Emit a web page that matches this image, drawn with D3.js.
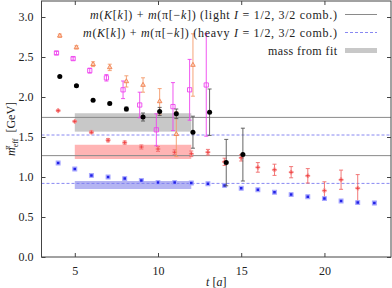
<!DOCTYPE html>
<html>
<head>
<meta charset="utf-8">
<script src="https://cdn.jsdelivr.net/npm/d3@7"></script>
<style>
  body { margin: 0; background: #fff; }
  svg text { font-family: "Liberation Serif", "DejaVu Serif", serif; fill: #222; }
</style>
</head>
<body>
<div id="chart"></div>
<script>
// Data
const tBlack = [4, 5, 6, 7, 8, 9, 10, 11, 12, 13, 14, 15];
const mBlack = [2.257, 2.14, 1.96, 1.92, 1.85, 1.75, 1.82, 1.79, 1.56, 1.81, 1.18, 1.28];
const eBlack = [0.01, 0.01, 0.012, 0.015, 0.025, 0.05, 0.05, 0.06, 0.2, 0.29, 0.29, 0.33];

const tRed = [4, 5, 6, 7, 8, 9, 10, 11, 12, 13, 14, 15, 16, 17, 18, 19, 20, 21, 22];
const mRed = [1.83, 1.695, 1.56, 1.46, 1.43, 1.375, 1.35, 1.31, 1.29, 1.31, 1.19, 1.24, 1.12, 1.09, 1.06, 1.015, 0.83, 0.966, 0.86];
const eRed = [0.01, 0.01, 0.015, 0.02, 0.02, 0.025, 0.03, 0.03, 0.035, 0.035, 0.045, 0.04, 0.06, 0.07, 0.07, 0.09, 0.11, 0.12, 0.17];

const tBlue = [4, 5, 6, 7, 8, 9, 10, 11, 12, 13, 14, 15, 16, 17, 18, 19, 20, 21, 22, 23];
const mBlue = [1.175, 1.10, 1.02, 1.0, 0.98, 0.957, 0.93, 0.93, 0.925, 0.916, 0.895, 0.86, 0.84, 0.81, 0.78, 0.754, 0.73, 0.70, 0.68, 0.675];
const eBlue = [0.01, 0.01, 0.01, 0.01, 0.01, 0.01, 0.01, 0.01, 0.01, 0.01, 0.01, 0.01, 0.01, 0.01, 0.01, 0.01, 0.01, 0.01, 0.01, 0.02];

const tMag = [4, 5, 6, 7, 8, 9, 10, 11, 12, 13];
const mMag = [2.55, 2.48, 2.33, 2.24, 2.09, 1.90, 1.59, 1.88, 2.09, 2.15];
const eMag = [0.02, 0.02, 0.03, 0.04, 0.11, 0.16, 0.2, 0.3, 0.38, 0.64];

const tOrange = [4, 5, 6, 7, 8, 9, 10, 11, 12];
const mOrange = [2.766, 2.62, 2.41, 2.37, 2.195, 2.15, 1.945, 1.535, 2.40];
const eOrange = [0.02, 0.02, 0.03, 0.04, 0.07, 0.09, 0.16, 0.28, 0.39];

const lightLevels = [1.745, 1.267];
const heavyLevels = [1.525, 0.92];
const fitBands = [[1.567, 1.797], [1.225, 1.403], [0.85, 0.95]];
const fitRange = [5, 12];

const xTicks = [5, 10, 15, 20];
const yTicks = [0, 0.5, 1, 1.5, 2, 2.5, 3];

const width = 392, height = 288;
const margin = { top: 1, right: 1, bottom: 31, left: 41.5 };

const svg = d3.select("#chart").append("svg")
    .attr("width", width)
    .attr("height", height);

const x = d3.scaleLinear().domain([3, 24]).range([margin.left, width - margin.right]);
const y = d3.scaleLinear().domain([0, 3.2]).range([height - margin.bottom, margin.top]);

// fit bands
const bandColors = ["#c8c8c8", "#ffb4b4", "#b4b4f2"];
svg.selectAll("rect.band")
    .data(fitBands)
    .enter().append("rect")
    .attr("class", "band")
    .attr("x", x(fitRange[0]))
    .attr("width", x(fitRange[1]) - x(fitRange[0]))
    .attr("y", d => y(d[1]))
    .attr("height", d => y(d[0]) - y(d[1]))
    .attr("fill", (d, i) => bandColors[i]);

// horizontal reference lines
svg.selectAll("line.light")
    .data(lightLevels)
    .enter().append("line")
    .attr("x1", x(3)).attr("x2", x(24))
    .attr("y1", d => y(d)).attr("y2", d => y(d))
    .attr("stroke", "#8a8a8a")
    .attr("stroke-width", 1);

svg.selectAll("line.heavy")
    .data(heavyLevels)
    .enter().append("line")
    .attr("x1", x(3)).attr("x2", x(24))
    .attr("y1", d => y(d)).attr("y2", d => y(d))
    .attr("stroke", "#7a7af0")
    .attr("stroke-width", 0.9)
    .attr("stroke-dasharray", "3,2");

// axes (ticks inside, mirrored)
const tickStyle = g => {
    g.select(".domain").remove();
    g.selectAll(".tick line").attr("stroke", "#444");
    g.selectAll(".tick text").style("font-size", "12px").attr("fill", "#333");
};

svg.append("g")
    .attr("transform", `translate(0,${y(0)})`)
    .call(d3.axisBottom(x).tickValues(xTicks).tickSizeInner(-4).tickPadding(9).tickFormat(d3.format("d")))
    .call(tickStyle);
svg.append("g")
    .attr("transform", `translate(0,${y(3.2)})`)
    .call(d3.axisTop(x).tickValues(xTicks).tickSizeInner(-4).tickFormat(""))
    .call(tickStyle);
svg.append("g")
    .attr("transform", `translate(${x(3)},0)`)
    .call(d3.axisLeft(y).tickValues(yTicks).tickSizeInner(-4).tickPadding(8).tickFormat(d3.format(".1f")))
    .call(tickStyle);
svg.append("g")
    .attr("transform", `translate(${x(24)},0)`)
    .call(d3.axisRight(y).tickValues(yTicks).tickSizeInner(-4).tickFormat(""))
    .call(tickStyle);

svg.append("rect")
    .attr("x", x(3)).attr("y", y(3.2))
    .attr("width", x(24) - x(3)).attr("height", y(0) - y(3.2))
    .attr("fill", "none")
    .attr("stroke", "#444")
    .attr("stroke-width", 1);

// series drawing
function series(ts, ms, es, dt, opts) {
    const data = ts.map((t, i) => ({ t: t + dt, m: ms[i], e: es[i] }));
    const g = svg.append("g");
    const cap = 2;
    g.selectAll("line.eb").data(data).enter().append("line")
        .attr("x1", d => x(d.t)).attr("x2", d => x(d.t))
        .attr("y1", d => y(d.m - d.e)).attr("y2", d => y(d.m + d.e))
        .attr("stroke", opts.bar).attr("stroke-width", 0.9);
    [1, -1].forEach(s => {
        g.selectAll(null).data(data).enter().append("line")
            .attr("x1", d => x(d.t) - cap).attr("x2", d => x(d.t) + cap)
            .attr("y1", d => y(d.m + s * d.e)).attr("y2", d => y(d.m + s * d.e))
            .attr("stroke", opts.bar).attr("stroke-width", 0.9);
    });
    g.selectAll("path.pt").data(data).enter().append("path")
        .attr("transform", d => `translate(${x(d.t)},${y(d.m)})`)
        .attr("d", d3.symbol(opts.symbol, opts.size))
        .attr("fill", opts.fill)
        .attr("stroke", opts.stroke)
        .attr("stroke-width", opts.sw);
}

series(tRed, mRed, eRed, 0, { bar: "#f06a6a", symbol: d3.symbolCross, size: 10, fill: "#f04040", stroke: "#f8a0a0", sw: 0.6 });
series(tBlue, mBlue, eBlue, 0, { bar: "#7070f0", symbol: d3.symbolSquare, size: 14, fill: "#2222e6", stroke: "#a8a8ff", sw: 1.2 });
series(tMag, mMag, eMag, -0.1, { bar: "#ee44ee", symbol: d3.symbolSquare, size: 18, fill: "none", stroke: "#ee44ee", sw: 0.9 });
series(tOrange, mOrange, eOrange, 0.1, { bar: "#f49a6a", symbol: d3.symbolTriangle, size: 9, fill: "#fbd0b8", stroke: "#f08050", sw: 0.9 });
series(tBlack, mBlack, eBlack, 0.1, { bar: "#555", symbol: d3.symbolCircle, size: 20, fill: "#000", stroke: "none", sw: 0 });

// legend
const legend = svg.append("g").style("font-size", "12px");
const lx = 337, ly = [14.5, 32.5, 50.5];
const legendWidths = [247, 254, 69];

function addMassText(row, label) {
    const t = legend.append("text").attr("x", lx).attr("y", ly[row] + 4).attr("text-anchor", "end")
        .attr("textLength", legendWidths[row]).attr("lengthAdjust", "spacing");
    t.append("tspan").style("font-style", "italic").text("m");
    t.append("tspan").text("(");
    t.append("tspan").style("font-style", "italic").text("K");
    t.append("tspan").text("[");
    t.append("tspan").style("font-style", "italic").text("k");
    t.append("tspan").text("]) + ");
    t.append("tspan").style("font-style", "italic").text("m");
    t.append("tspan").text("(π[−");
    t.append("tspan").style("font-style", "italic").text("k");
    t.append("tspan").text("]) (" + label + " ");
    t.append("tspan").style("font-style", "italic").text("I");
    t.append("tspan").text(" = 1/2, 3/2 comb.)");
}
addMassText(0, "light");
addMassText(1, "heavy");
legend.append("text").attr("x", lx).attr("y", ly[2] + 4).attr("text-anchor", "end")
    .attr("textLength", legendWidths[2]).attr("lengthAdjust", "spacing")
    .text("mass from fit");

legend.append("line").attr("x1", 345).attr("x2", 377).attr("y1", ly[0]).attr("y2", ly[0])
    .attr("stroke", "#8a8a8a").attr("stroke-width", 1);
legend.append("line").attr("x1", 345).attr("x2", 377).attr("y1", ly[1]).attr("y2", ly[1])
    .attr("stroke", "#7a7af0").attr("stroke-width", 0.9).attr("stroke-dasharray", "3,2");
legend.append("rect").attr("x", 345).attr("y", ly[2] - 2.5).attr("width", 32).attr("height", 5)
    .attr("fill", "#c8c8c8");

// axis labels
const yl = svg.append("text")
    .attr("transform", `translate(15,${y(1.6)}) rotate(-90)`)
    .attr("text-anchor", "middle")
    .style("font-size", "12px");
yl.append("tspan").style("font-style", "italic").text("m");
yl.append("tspan").attr("dy", 3).style("font-size", "8px").text("eff");
yl.append("tspan").attr("dx", -11).attr("dy", -8).style("font-size", "8px").style("font-style", "italic").text("π");
yl.append("tspan").attr("dy", 5).attr("dx", 13).text("[GeV]");

const xl = svg.append("text")
    .attr("x", (x(3) + x(24)) / 2)
    .attr("y", 286)
    .attr("text-anchor", "middle")
    .style("font-size", "12px");
xl.append("tspan").style("font-style", "italic").text("t");
xl.append("tspan").text(" [");
xl.append("tspan").style("font-style", "italic").text("a");
xl.append("tspan").text("]");
</script>
</body>
</html>
